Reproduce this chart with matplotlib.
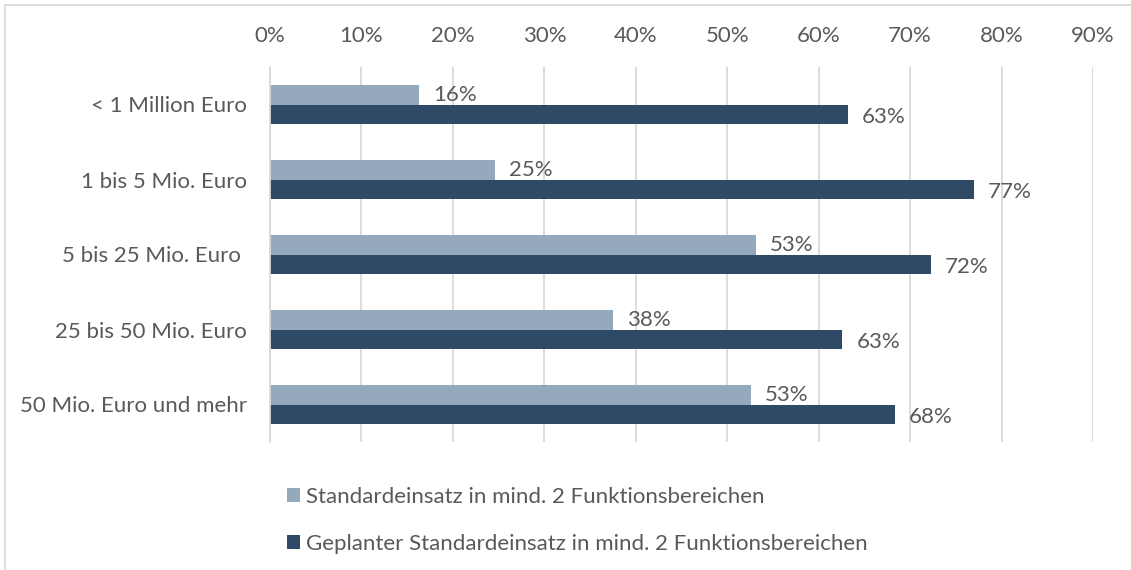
import matplotlib
matplotlib.use("Agg")
import matplotlib.pyplot as plt
import numpy as np
from matplotlib.lines import Line2D

categories = ["< 1 Million Euro", "1 bis 5 Mio. Euro", "5 bis 25 Mio. Euro ",
              "25 bis 50 Mio. Euro", "50 Mio. Euro und mehr"]
standard = [16.3, 24.6, 53.1, 37.5, 52.6]
geplant = [63.2, 77.0, 72.3, 62.6, 68.3]
series_names = ["Standardeinsatz in mind. 2 Funktionsbereichen",
                "Geplanter Standardeinsatz in mind. 2 Funktionsbereichen"]
xticks = [0, 10, 20, 30, 40, 50, 60, 70, 80, 90]

LIGHT = "#94A9BC"
DARK = "#2E4A66"
TEXT = "#595959"
GRID = "#D9D9D9"
FS = 16

plt.rcParams["font.family"] = ["Lato", "DejaVu Sans"]

W, H = 1131, 570
fig = plt.figure(figsize=(W / 100, H / 100), dpi=100)
ax = fig.add_axes([270 / W, 1 - 442 / H, (1093 - 270) / W, (442 - 67) / H])

y = np.arange(len(categories))
h = 0.26
b1 = ax.barh(y - h / 2, standard, height=h, color=LIGHT, label=series_names[0])
b2 = ax.barh(y + h / 2, geplant, height=h, color=DARK, label=series_names[1])

for yi, v in zip(y, standard):
    ax.annotate(f"{v:.0f}%", (v, yi - h / 2), xytext=(10, 0), textcoords="offset points",
                ha="left", va="center", fontsize=FS, color=TEXT)
for yi, v in zip(y, geplant):
    ax.annotate(f"{v:.0f}%", (v, yi + h / 2), xytext=(10, -2), textcoords="offset points",
                ha="left", va="center", fontsize=FS, color=TEXT)

ax.set_xlim(0, 90)
ax.set_ylim(len(categories) - 0.5, -0.5)
ax.set_xticks(xticks)
ax.set_xticklabels([f"{t}%" for t in xticks])
ax.set_yticks(y)
ax.set_yticklabels(categories)
ax.xaxis.tick_top()
ax.tick_params(axis="x", length=0, pad=15, labelsize=FS, labelcolor=TEXT)
ax.tick_params(axis="y", length=0, pad=16.5, labelsize=FS, labelcolor=TEXT)
ax.grid(axis="x", color=GRID, linewidth=1.3)
ax.set_axisbelow(True)
for s in ["top", "right", "bottom"]:
    ax.spines[s].set_visible(False)
ax.spines["left"].set_color(GRID)
ax.spines["left"].set_linewidth(1.3)

fig.legend(handles=[b1, b2], loc="upper left",
           bbox_to_anchor=(287 / W, 1 - 487 / H), frameon=False,
           fontsize=FS, labelcolor=TEXT, borderpad=0, borderaxespad=0,
           handlelength=0.6, handleheight=0.6, handletextpad=0.25,
           labelspacing=1.22)

# outer chart frame (only left and top edges visible in the crop)
fig.add_artist(Line2D([4.5 / W, 4.5 / W], [0, 1 - 5 / H], transform=fig.transFigure,
                      color=GRID, linewidth=1.3))
fig.add_artist(Line2D([4.5 / W, 1], [1 - 5 / H, 1 - 5 / H], transform=fig.transFigure,
                      color=GRID, linewidth=1.3))

fig.savefig("out.png", dpi=100)
